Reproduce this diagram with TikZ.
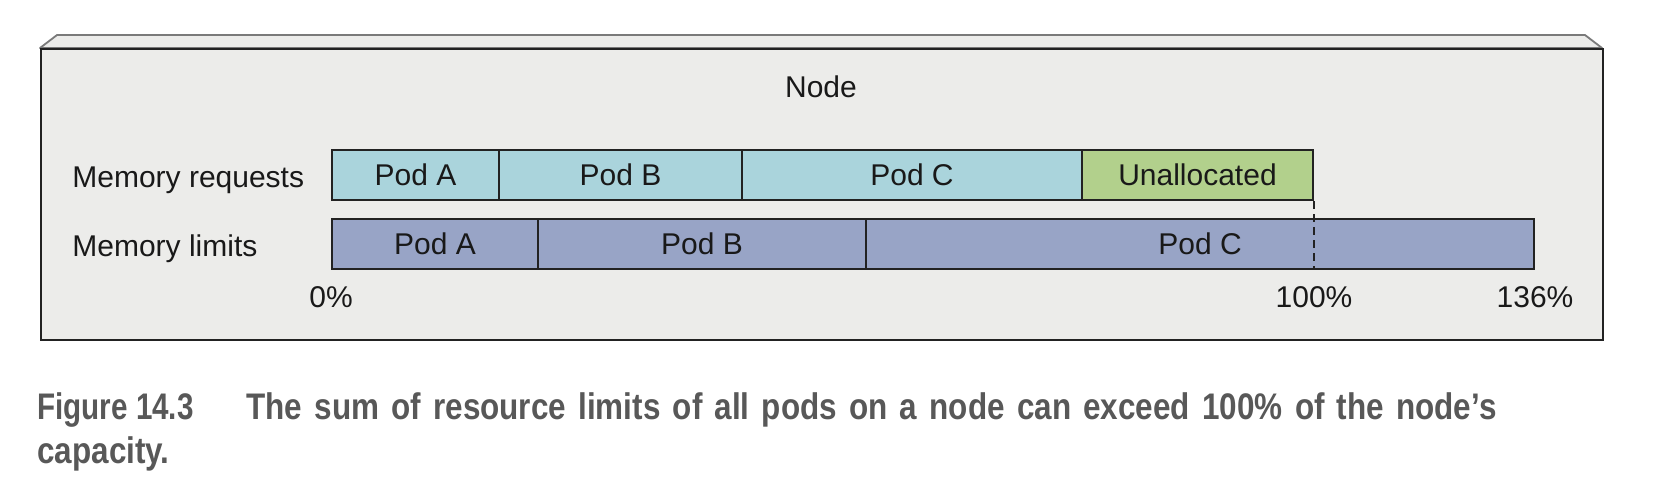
\documentclass[tikz,border=0pt]{standalone}
\usepackage{fontspec}
\setmainfont{Liberation Sans}
\newfontfamily\capfont{Liberation Sans}[FakeStretch=0.85, WordSpace=1.4]
\newfontfamily\capfontnarrow{Liberation Sans}[FakeStretch=0.8]
\definecolor{boxfill}{RGB}{236,236,234}
\definecolor{reqfill}{RGB}{170,212,220}
\definecolor{unfill}{RGB}{178,208,140}
\definecolor{limfill}{RGB}{152,164,198}
\definecolor{edge}{RGB}{34,34,34}
\definecolor{captext}{RGB}{88,88,88}
\tikzset{
  seg/.style={draw=edge, line width=1pt, inner sep=0pt, minimum height=25pt,
    font=\fontsize{15}{18}\selectfont, text=black!90},
  req/.style={seg, fill=reqfill},
  unal/.style={seg, fill=unfill},
  lim/.style={seg, fill=limfill},
  lbl/.style={inner sep=0pt, font=\fontsize{15}{18}\selectfont, text=black!90},
  captiontext/.style={inner sep=0pt, font=\capfont\bfseries\fontsize{18.5}{22}\selectfont, text=captext},
  captionlabel/.style={inner sep=0pt, font=\capfontnarrow\bfseries\fontsize{18.5}{22}\selectfont, text=captext},
}
\begin{document}
\begin{tikzpicture}[x=0.5pt, y=-0.5pt]
\useasboundingbox[fill=white] (0,0) rectangle (1656,488);
% node box with top face
\draw[fill=boxfill, draw=edge!60, line width=0.9pt, line join=round] (40,48) -- (57,35) -- (1585,35) -- (1602,48) -- cycle;
\node[draw=edge, fill=boxfill, line width=1.2pt, inner sep=0pt, anchor=north west,
  minimum width=781pt, minimum height=145.5pt] (box) at (40,48) {};
\node[lbl, anchor=base] (title) at (821,97) {Node};
% row labels
\node[lbl, anchor=base west] (reqlbl) at (72,187) {Memory requests};
\node[lbl, anchor=base west] (limlbl) at (72,256) {Memory limits};
% requests row
\node[req, minimum width=83.5pt] (ra) at (415.5,175) {Pod A};
\node[req, minimum width=121.5pt] (rb) at (620.5,175) {Pod B};
\node[req, minimum width=170pt] (rc) at (912,175) {Pod C};
\node[unal, minimum width=115.5pt] (ru) at (1197.5,175) {Unallocated};
% limits row
\node[lim, minimum width=103pt] (la) at (435,244) {Pod A};
\node[lim, minimum width=164pt] (lb) at (702,244) {Pod B};
\node[lim, minimum width=334pt] (lc) at (1200,244) {Pod C};
% dashed 100% marker
\coordinate (d1) at (ru.south east);
\coordinate (d2) at (ru.south east |- lc.south);
\draw[edge, line width=1pt, dash pattern=on 4pt off 2.5pt] (d1) -- (d2);
% percentage labels
\node[lbl, anchor=base] (p0) at (ra.west |- 0,307) {0\%};
\node[lbl, anchor=base] (p100) at (d2 |- 0,307) {100\%};
\node[lbl, anchor=base] (p136) at (lc.east |- 0,307) {136\%};
% caption
\node[captionlabel, anchor=base west] (capnum) at (37,419) {Figure 14.3};
\node[captiontext, anchor=base west] (cap1) at (246,419) {The sum of resource limits of all pods on a node can exceed 100\% of the node’s};
\node[captiontext, anchor=base west] (cap2) at (37,463) {capacity.};
\end{tikzpicture}
\end{document}
